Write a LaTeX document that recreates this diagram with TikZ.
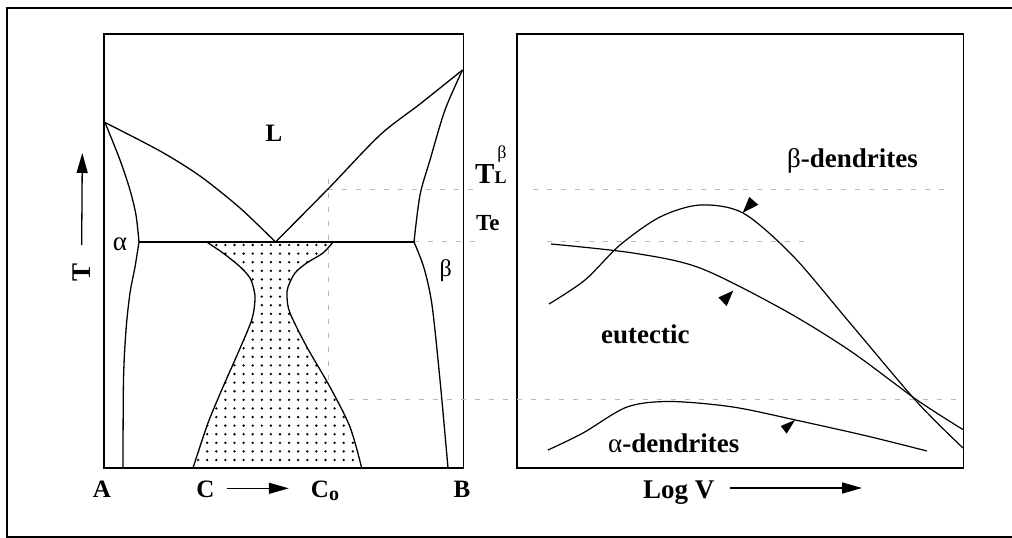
\documentclass[tikz,border=0pt]{standalone}
\usepackage{fontspec}
\setmainfont{Liberation Serif}
\usetikzlibrary{arrows.meta}

\begin{document}
\begin{tikzpicture}[
  x=1pt, y=-1pt,
  frame/.style={line width=1.4pt},
  curve/.style={line width=1.3pt, line join=round},
  guide/.style={gray!55, line width=0.6pt, dash pattern=on 5pt off 9pt},
  lbl/.style={inner sep=0pt, anchor=base, font=\bfseries\fontsize{25}{25}\selectfont},
  greek/.style={inner sep=0pt, anchor=base, font=\fontsize{26}{26}\selectfont},
  phase/.style={inner sep=0pt, anchor=base west, font=\bfseries\fontsize{27}{27}\selectfont},
  axarr/.style={line width=1.3pt, -{Triangle[length=20pt, width=11pt]}},
  flag/.style={fill=black}
]
\useasboundingbox (0,0) rectangle (1012,538);

% ── Outer frame and the two panels ───────────────────────────────────────────
\draw[frame] (1012,8) -- (7,8) -- (7,537) -- (1012,537);
\draw[frame] (104,34) rectangle (463.3,468);
\draw[frame] (517,34) rectangle (963.5,468);

% ── Faint guide lines ────────────────────────────────────────────────────────
\draw[guide] (328,189) -- (477,189);
\draw[guide] (533,189) -- (950,189);
\draw[guide] (414,241) -- (483,241);
\draw[guide] (547,241) -- (807,241);
\draw[guide] (349,399) -- (963,399);
\draw[guide] (328,179) -- (328,388);

% ── Coupled zone (dotted) ────────────────────────────────────────────────────
\begin{scope}
  \clip plot[smooth] coordinates {(206.7,242) (223,253) (240,266.7) (250,278)
        (254,290) (255,300) (251.7,320) (238,353) (223,387) (208,423) (193,468)}
     -- plot[smooth] coordinates {(361.7,468) (350,427) (330,387) (306.7,346.7)
        (290,313) (287,297) (288,287) (295,273) (306.7,263) (323,253) (333,242)}
     -- cycle;
  \foreach \i in {0,...,19}{
    \foreach \j in {0,...,26}{
      \fill ({189+9.1*\i},{245+8.6*\j}) circle[radius=1.3pt];
    }
  }
\end{scope}
\draw[curve] plot[smooth] coordinates {(206.7,242) (223,253) (240,266.7) (250,278)
        (254,290) (255,300) (251.7,320) (238,353) (223,387) (208,423) (193,468)};
\draw[curve] plot[smooth] coordinates {(361.7,468) (350,427) (330,387) (306.7,346.7)
        (290,313) (287,297) (288,287) (295,273) (306.7,263) (323,253) (333,242)};

% ── Phase diagram lines ──────────────────────────────────────────────────────
\draw[curve] plot[smooth] coordinates {(105,122.5) (160,151) (200,176) (240,208) (275.5,242)};
\draw[curve] plot[smooth] coordinates {(275.5,242) (328,189) (380,135) (420,104) (462.5,70)};
\draw[curve] (139,242) -- (414,242);
\draw[curve] plot[smooth] coordinates {(105,122.5) (120,160) (130,190) (136,215) (139,242)};
\draw[curve] plot[smooth] coordinates {(139,242) (135,267) (130,293) (126,330) (123.5,380) (123,468)};
\draw[curve] plot[smooth] coordinates {(462.5,70) (445,110) (430,160) (420,195) (414,242)};
\draw[curve] plot[smooth] coordinates {(414,242) (424,268) (432,305) (440,380) (448,468)};

% ── Left panel labels ────────────────────────────────────────────────────────
\node[lbl] (liq) at (274,141.4) {L};
\node[greek, font=\fontsize{27}{27}\selectfont] (alpha) at (120,250.7) {α};
\node[greek, font=\fontsize{24}{24}\selectfont] (beta) at (445.7,276.7) {β};
\node[lbl, anchor=base west, font=\bfseries\fontsize{29}{29}\selectfont] (TL) at (475,183)
  {T{\fontsize{18}{18}\selectfont L}};
\node[greek, font=\fontsize{18}{18}\selectfont] (TLb) at (502,158) {β};
\node[lbl, anchor=base west, font=\bfseries\fontsize{23}{23}\selectfont] (Te) at (476,230) {Te};

\node[lbl, anchor=center, rotate=90, font=\bfseries\fontsize{27}{27}\selectfont] (T) at (81.5,272.4) {T};
\coordinate (Ttop) at (82.3,153);
\draw[axarr, shorten <=18pt] (T) -- (Ttop);

\node[lbl] (A) at (102,497) {A};
\node[lbl] (C) at (205.5,497.5) {C};
\node[lbl] (Co) at (325,497.5) {C\raisebox{-3pt}{\fontsize{20}{20}\selectfont o}};
\node[lbl] (B) at (462,497.5) {B};
\draw[axarr, shorten <=12pt, shorten >=22pt] (C.east |- 0,488.3) -- (Co.west |- 0,488.3);

% ── Right panel: growth curves ───────────────────────────────────────────────
\draw[curve, line width=1.2pt] plot[smooth] coordinates {(549,304) (585,280) (620,245)
      (660,217) (700,205) (743,213) (793,256) (850,323) (917,402) (963,448)};
\draw[curve, line width=1.2pt] plot[smooth] coordinates {(551,244) (633,253) (700,268)
      (783,309.5) (850,350.7) (917,400) (963,429.6)};
\draw[curve, line width=1.2pt] plot[smooth] coordinates {(548,450) (583,433) (627,407)
      (670,401.5) (733,407) (800,421) (867,436) (927,451)};

\fill[flag] (742.7,212.8) -- (749.3,196.9) -- (758.3,204.8) -- cycle;
\fill[flag] (733.3,290.6) -- (718.3,297.5) -- (726.7,306) -- cycle;
\fill[flag] (795,420) -- (780.7,426) -- (786.7,433.7) -- cycle;

% ── Right panel labels ───────────────────────────────────────────────────────
\node[phase] (bdend) at (787,167) {{\mdseries β}-dendrites};
\node[phase] (eut) at (601,343.8) {eutectic};
\node[phase] (adend) at (608,452.8) {{\mdseries α}-dendrites};
\node[phase] (logv) at (643,498) {Log V};
\coordinate (logvend) at (862,488);
\draw[axarr, shorten <=15pt] (logv.east |- 0,488) -- (logvend);
\end{tikzpicture}
\end{document}
